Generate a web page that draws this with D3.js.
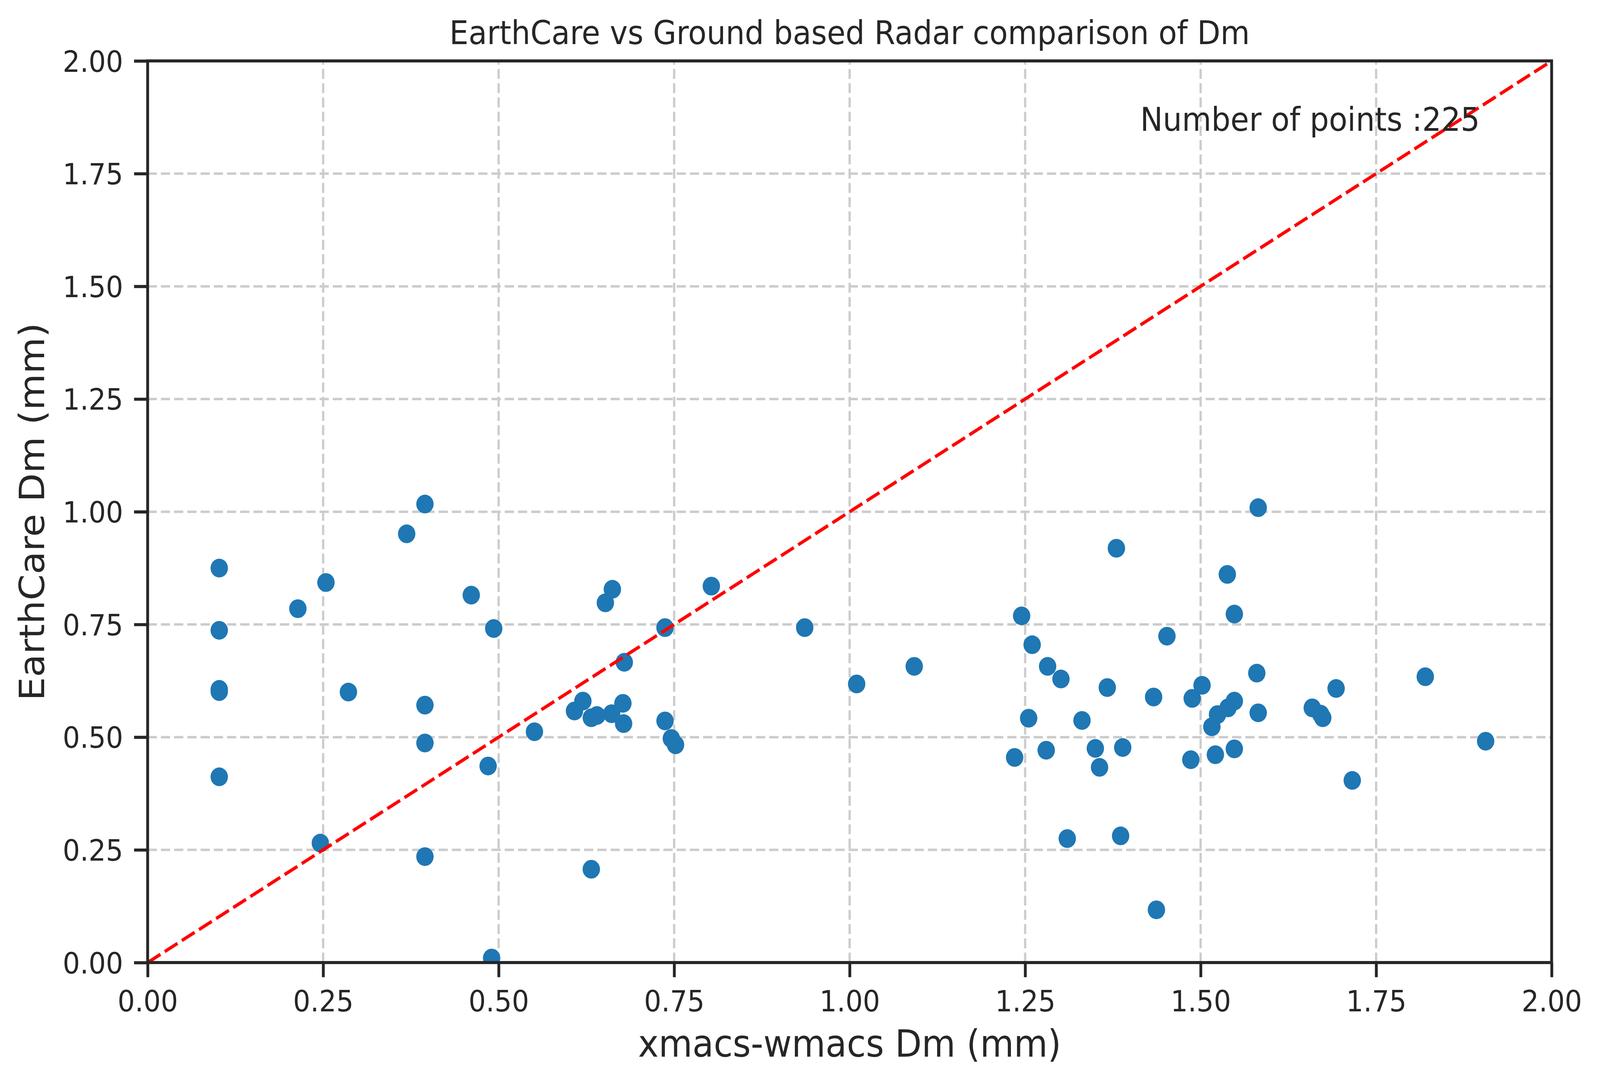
<!DOCTYPE html>
<html>
<head>
<meta charset="utf-8">
<script src="https://cdn.jsdelivr.net/npm/d3@7"></script>
<style>
  html, body { margin: 0; padding: 0; background: #ffffff; width: 100%; height: 100%; overflow: hidden; }
  svg { display: block; width: 100vw; height: 100vh; }
  text { font-family: "DejaVu Sans", sans-serif; fill: #262626; }
</style>
</head>
<body>
<svg id="chart" viewBox="0 0 4416 2776" preserveAspectRatio="none"></svg>
<script>
// ---------- data ----------
const titleText = "EarthCare vs Ground based Radar comparison of Dm";
const xLabel = "xmacs-wmacs Dm (mm)";
const yLabel = "EarthCare Dm (mm)";
const annotationText = "Number of points :225";
const xTicks = [0, 0.25, 0.5, 0.75, 1.0, 1.25, 1.5, 1.75, 2.0];
const yTicks = [0, 0.25, 0.5, 0.75, 1.0, 1.25, 1.5, 1.75, 2.0];
const xDomain = [0, 2];
const yDomain = [0, 2];

const xmacsDm = [
  0.102, 0.102, 0.102, 0.102, 0.102, 0.214, 0.254, 0.246, 0.286, 0.369,
  0.395, 0.395, 0.395, 0.395, 0.461, 0.493, 0.485, 0.490, 0.551, 0.632,
  0.608, 0.620, 0.632, 0.640, 0.661, 0.652, 0.662, 0.677, 0.678, 0.679,
  0.737, 0.737, 0.746, 0.752, 0.803, 0.936, 1.010, 1.092, 1.245, 1.260,
  1.282, 1.301, 1.255, 1.235, 1.280, 1.331, 1.310, 1.380, 1.367, 1.350,
  1.356, 1.389, 1.386, 1.433, 1.437, 1.452, 1.486, 1.488, 1.502, 1.516,
  1.524, 1.539, 1.548, 1.521, 1.548, 1.538, 1.548, 1.582, 1.580, 1.582,
  1.659, 1.671, 1.674, 1.693, 1.716, 1.820, 1.906
];
const earthcareDm = [
  0.875, 0.737, 0.606, 0.601, 0.412, 0.785, 0.843, 0.265, 0.600, 0.951,
  1.017, 0.571, 0.487, 0.235, 0.815, 0.741, 0.436, 0.010, 0.512, 0.207,
  0.558, 0.580, 0.543, 0.548, 0.552, 0.798, 0.828, 0.575, 0.530, 0.666,
  0.743, 0.536, 0.497, 0.483, 0.835, 0.743, 0.618, 0.657, 0.769, 0.705,
  0.657, 0.629, 0.542, 0.455, 0.471, 0.537, 0.275, 0.919, 0.610, 0.475,
  0.433, 0.477, 0.281, 0.589, 0.117, 0.724, 0.450, 0.586, 0.615, 0.523,
  0.550, 0.565, 0.580, 0.461, 0.474, 0.861, 0.773, 1.009, 0.642, 0.554,
  0.565, 0.551, 0.543, 0.608, 0.404, 0.634, 0.491
];
const identityLine = [[0, 0], [2, 2]];

// ---------- layout ----------
const plot = { left: 407.5, right: 4282.5, top: 156, bottom: 2465 };
const ink = "#262626";
const svg = d3.select("#chart");

const x = d3.scaleLinear().domain(xDomain).range([plot.left, plot.right]);
const y = d3.scaleLinear().domain(yDomain).range([plot.bottom, plot.top]);

svg.append("rect").attr("width", 4416).attr("height", 2776).attr("fill", "#ffffff");

svg.append("defs").append("clipPath").attr("id", "plotclip")
  .append("rect")
  .attr("x", plot.left).attr("y", plot.top)
  .attr("width", plot.right - plot.left).attr("height", plot.bottom - plot.top);

// grid
const grid = svg.append("g");
grid.selectAll("line.vg").data(xTicks).enter().append("line")
  .attr("x1", d => x(d)).attr("x2", d => x(d))
  .attr("y1", plot.bottom).attr("y2", plot.top)
  .attr("stroke", "#cccccc").attr("stroke-width", 6.25)
  .attr("stroke-dasharray", "25.5,11");
grid.selectAll("line.hg").data(yTicks).enter().append("line")
  .attr("y1", d => y(d)).attr("y2", d => y(d))
  .attr("x1", plot.left).attr("x2", plot.right)
  .attr("stroke", "#cccccc").attr("stroke-width", 6.25)
  .attr("stroke-dasharray", "25.5,11");

// points
const pts = xmacsDm.map((v, i) => [v, earthcareDm[i]]);
svg.append("g").attr("clip-path", "url(#plotclip)")
  .selectAll("circle").data(pts).enter().append("circle")
  .attr("cx", d => x(d[0])).attr("cy", d => y(d[1]))
  .attr("r", 24).attr("fill", "#1f77b4");

// identity line
const line = d3.line().x(d => x(d[0])).y(d => y(d[1]));
svg.append("path").datum(identityLine)
  .attr("clip-path", "url(#plotclip)")
  .attr("d", line).attr("fill", "none")
  .attr("stroke", "#ff0000").attr("stroke-width", 8.5)
  .attr("stroke-dasharray", "41,14");

// axes
const xAxis = d3.axisBottom(x).tickValues(xTicks).tickFormat(d3.format(".2f"))
  .tickSize(37.5).tickSizeOuter(0).tickPadding(14);
const yAxis = d3.axisLeft(y).tickValues(yTicks).tickFormat(d3.format(".2f"))
  .tickSize(37.5).tickSizeOuter(0).tickPadding(30);

const gx = svg.append("g").attr("transform", `translate(0,${plot.bottom})`).call(xAxis);
const gy = svg.append("g").attr("transform", `translate(${plot.left},0)`).call(yAxis);
[gx, gy].forEach(g => {
  g.select(".domain").remove();
  g.selectAll(".tick line").attr("stroke", ink).attr("stroke-width", 7.8);
  g.selectAll(".tick text").attr("fill", ink)
    .style("font-family", "'DejaVu Sans', sans-serif").style("font-size", "75px");
});
gx.selectAll(".tick text").attr("dy", null).attr("y", 125);
gy.selectAll(".tick text").attr("dy", null).attr("y", 27);

// spines
svg.append("rect")
  .attr("x", plot.left).attr("y", plot.top)
  .attr("width", plot.right - plot.left).attr("height", plot.bottom - plot.top)
  .attr("fill", "none").attr("stroke", ink).attr("stroke-width", 7.8);

// texts
svg.append("text").attr("x", (plot.left + plot.right) / 2).attr("y", 113)
  .attr("text-anchor", "middle").style("font-size", "83.3px").text(titleText);

svg.append("text").attr("x", (plot.left + plot.right) / 2).attr("y", 2706)
  .attr("text-anchor", "middle").style("font-size", "95.8px").text(xLabel);

svg.append("text")
  .attr("transform", `translate(122,${(plot.top + plot.bottom) / 2}) rotate(-90)`)
  .attr("text-anchor", "middle").style("font-size", "95.8px").text(yLabel);

svg.append("text").attr("x", x(1.414)).attr("y", y(1.845))
  .attr("text-anchor", "start").style("font-size", "83.3px").text(annotationText);
</script>
</body>
</html>
